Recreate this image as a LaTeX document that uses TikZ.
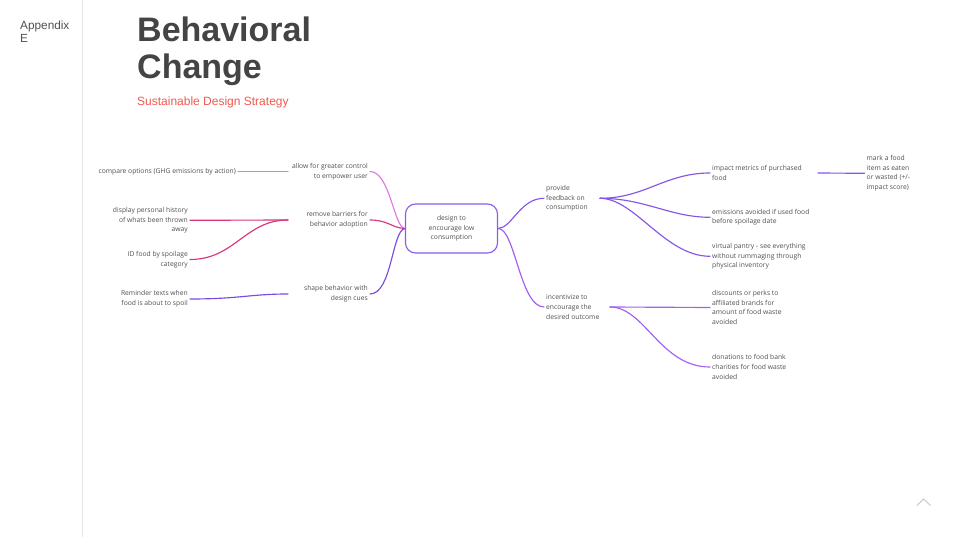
\documentclass[tikz,border=0pt]{standalone}
\usepackage{fontspec}
\setmainfont{Liberation Sans}
\newfontfamily\mmfont{Open Sans}
\begin{document}
\begin{tikzpicture}[x=1pt,y=-1pt,
  mm/.style={font=\mmfont\fontsize{6.75}{9.6}\selectfont, text=mmgray, inner sep=2pt},
  mml/.style={mm, anchor=west, align=left},
  mmr/.style={mm, anchor=east, align=right},
  conn/.style={line width=1.15pt, line cap=round},
]
\definecolor{mmgray}{HTML}{505050}
\definecolor{titlegray}{HTML}{444444}
\definecolor{subred}{HTML}{EE5A50}
\definecolor{cAllow}{HTML}{E07AE0}
\definecolor{cRemove}{HTML}{D8357E}
\definecolor{cShape}{HTML}{7B4BE6}
\definecolor{cProvide}{HTML}{8656E8}
\definecolor{cIncent}{HTML}{A261F0}
\definecolor{cCenter}{HTML}{8A5CEC}
\useasboundingbox (0,0) rectangle (960,537);
\fill[white] (0,0) rectangle (960,537);
% side bar
\draw[line width=0.8pt, draw=black!10] (82.5,0) -- (82.5,537);
\node[anchor=base west, inner sep=0, font=\fontsize{11.8}{14}\selectfont, text=mmgray] (app) at (20,29.3) {Appendix};
\node[anchor=base west, inner sep=0, font=\fontsize{11.8}{14}\selectfont, text=mmgray] (appe) at (20,42.7) {E};
% title
\node[anchor=base west, inner sep=0, font=\bfseries\fontsize{34}{36}\selectfont, text=titlegray] (t1) at (137,41.7) {Behavioral};
\node[anchor=base west, inner sep=0, font=\bfseries\fontsize{34}{36}\selectfont, text=titlegray] (t2) at (137,78.3) {Change};
\node[anchor=base west, inner sep=0, font=\fontsize{12}{14}\selectfont, text=subred] (sub) at (137,106) {Sustainable Design Strategy};
% chevron
\draw[draw=black!22, line width=0.9pt] (916.7,505.7) -- (923.5,499) -- (930.7,505.7);

% center
\node[draw=cCenter, line width=1.15pt, rounded corners=10pt, minimum width=92pt, minimum height=49pt,
  font=\mmfont\fontsize{6.75}{9.6}\selectfont, text=mmgray, align=center] (c) at (451.5,228.5)
  {design to\\encourage low\\consumption};

% left level 1
\node[mmr] (allow) at (370,171.5) {allow for greater control\\to empower user};
\node[mmr] (remove) at (370,220) {remove barriers for\\behavior adoption};
\node[mmr] (shape) at (370,294) {shape behavior with\\design cues};
% left level 2
\node[mmr] (compare) at (238,171.5) {compare options (GHG emissions by action)};
\node[mmr] (display) at (190,220.3) {display personal history\\of whats been thrown\\away};
\node[mmr] (idfood) at (190,259.5) {ID food by spoilage\\category};
\node[mmr] (remind) at (190,299) {Reminder texts when\\food is about to spoil};
\coordinate (allowL) at (288,171.5);
\coordinate (removeL) at (288,220);
\coordinate (shapeL) at (288,294);

% right level 1
\node[mml] (provide) at (544,198.3) {provide\\feedback on\\consumption};
\node[mml] (incent) at (544,307) {incentivize to\\encourage the\\desired outcome};
\coordinate (provideR) at (600,198.3);
\coordinate (incentR) at (610,307);
% right level 2
\node[mml] (impact) at (710,173) {impact metrics of purchased\\food};
\node[mml] (emis) at (710,217.3) {emissions avoided if used food\\before spoilage date};
\node[mml] (virt) at (710,256.3) {virtual pantry - see everything\\without rummaging through\\physical inventory};
\node[mml] (disc) at (710,307.5) {discounts or perks to\\affiliated brands for\\amount of food waste\\avoided};
\node[mml] (don) at (710,367) {donations to food bank\\charities for food waste\\avoided};
\coordinate (impactR) at (818,173);
\node[mml] (mark) at (864.5,173.3) {mark a food\\item as eaten\\or wasted (+/-\\impact score)};

% connectors left
\draw[conn, cAllow] (c.west) .. controls (394,228) and (390,171.5) .. (allow.east);
\draw[conn, cRemove] (c.west) .. controls (392,228) and (388,220) .. (remove.east);
\draw[conn, cShape] (c.west) .. controls (392,230) and (392,294) .. (shape.east);
\draw[conn, cAllow] (allowL) -- (compare.east);
\draw[conn, cRemove] (removeL) -- (display.east);
\draw[conn, cRemove] (removeL) .. controls (245,220) and (235,259.5) .. (idfood.east);
\draw[conn, cShape] (shapeL) .. controls (250,294) and (240,299) .. (remind.east);

% connectors right
\draw[conn, cProvide] (c.east) .. controls (512,228) and (520,198.3) .. (provide.west);
\draw[conn, cIncent!85!cProvide] (c.east) .. controls (515,228) and (520,307) .. (incent.west);
\draw[conn, cProvide] (provideR) .. controls (645,198.3) and (665,173) .. (impact.west);
\draw[conn, cProvide] (provideR) .. controls (645,198.3) and (670,217.3) .. (emis.west);
\draw[conn, cProvide] (provideR) .. controls (635,198.3) and (665,256.3) .. (virt.west);
\draw[conn, cProvide] (impactR) -- (mark.west);
\draw[conn, cIncent] (incentR) -- (disc.west);
\draw[conn, cIncent] (incentR) .. controls (645,307) and (660,367) .. (don.west);
\end{tikzpicture}
\end{document}
